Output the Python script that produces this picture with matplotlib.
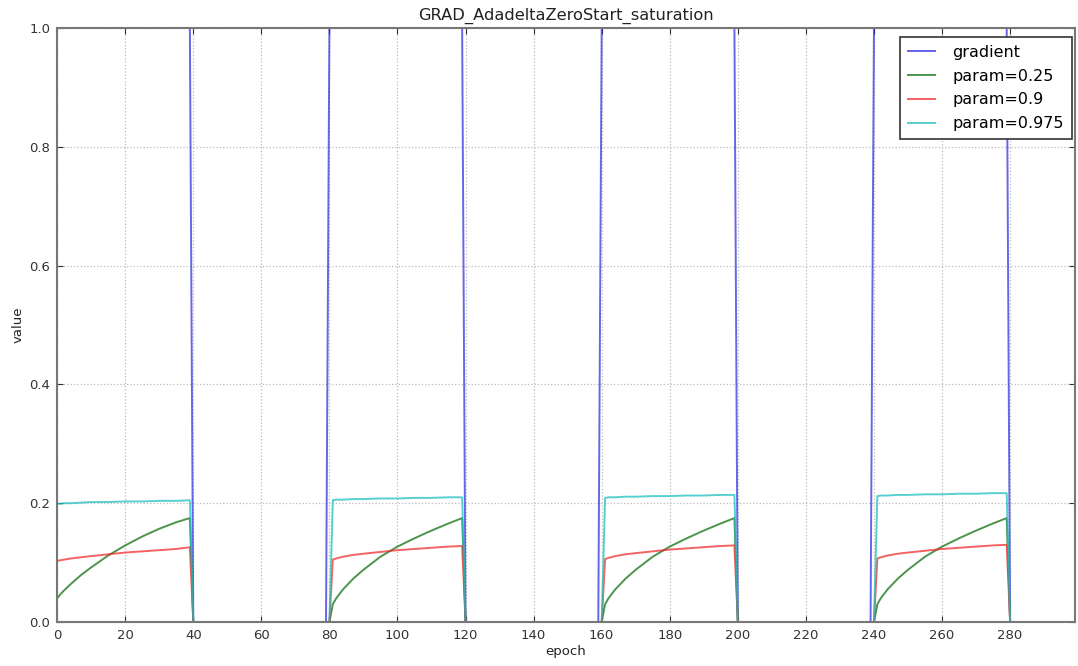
import matplotlib
matplotlib.use("Agg")
import matplotlib.pyplot as plt

# sampled epochs (x values)
epochs = [0, 1, 2, 4, 7, 10, 15, 20, 25, 30, 35, 39, 40, 79,
          80, 81, 82, 84, 87, 90, 95, 100, 105, 110, 115, 119, 120, 159,
          160, 161, 162, 164, 167, 170, 175, 180, 185, 190, 195, 199, 200, 239,
          240, 241, 242, 244, 247, 250, 255, 260, 265, 270, 275, 279, 280, 299]

gradient = [1, 1, 1, 1, 1, 1, 1, 1, 1, 1, 1, 1, 0, 0,
            1, 1, 1, 1, 1, 1, 1, 1, 1, 1, 1, 1, 0, 0,
            1, 1, 1, 1, 1, 1, 1, 1, 1, 1, 1, 1, 0, 0,
            1, 1, 1, 1, 1, 1, 1, 1, 1, 1, 1, 1, 0, 0]

param_025 = [0.040, 0.047, 0.053, 0.064, 0.079, 0.092, 0.112, 0.129, 0.144, 0.157, 0.168, 0.175, 0.0, 0.0,
             0.0, 0.030, 0.040, 0.055, 0.073, 0.088, 0.110, 0.127, 0.141, 0.154, 0.166, 0.175, 0.0, 0.0,
             0.0, 0.030, 0.040, 0.055, 0.073, 0.088, 0.110, 0.127, 0.141, 0.154, 0.166, 0.175, 0.0, 0.0,
             0.0, 0.030, 0.040, 0.055, 0.073, 0.088, 0.110, 0.127, 0.141, 0.154, 0.166, 0.175, 0.0, 0.0]

param_09 = [0.103, 0.104, 0.105, 0.107, 0.109, 0.111, 0.114, 0.117, 0.119, 0.121, 0.123, 0.126, 0.0, 0.0,
            0.0, 0.105, 0.107, 0.110, 0.113, 0.115, 0.118, 0.121, 0.123, 0.125, 0.127, 0.128, 0.0, 0.0,
            0.0, 0.106, 0.108, 0.111, 0.114, 0.116, 0.119, 0.122, 0.124, 0.126, 0.128, 0.129, 0.0, 0.0,
            0.0, 0.107, 0.109, 0.112, 0.115, 0.117, 0.120, 0.123, 0.125, 0.127, 0.129, 0.130, 0.0, 0.0]

param_0975 = [0.199, 0.199, 0.200, 0.200, 0.201, 0.202, 0.202, 0.203, 0.203, 0.204, 0.204, 0.205, 0.0, 0.0,
              0.0, 0.205, 0.206, 0.206, 0.207, 0.207, 0.208, 0.208, 0.209, 0.209, 0.210, 0.210, 0.0, 0.0,
              0.0, 0.209, 0.210, 0.210, 0.211, 0.211, 0.212, 0.212, 0.213, 0.213, 0.214, 0.214, 0.0, 0.0,
              0.0, 0.212, 0.213, 0.213, 0.214, 0.214, 0.215, 0.215, 0.216, 0.216, 0.217, 0.217, 0.0, 0.0]

xticks = [0, 20, 40, 60, 80, 100, 120, 140, 160, 180, 200, 220, 240, 260, 280]
yticks = [0.0, 0.2, 0.4, 0.6, 0.8, 1.0]

plt.rcParams['font.family'] = ['DejaVu Sans']
fig = plt.figure(figsize=(10.78, 6.66), dpi=100)
ax = fig.add_axes([0.053, 0.066, 0.944, 0.892])

ax.plot(epochs, gradient, color='#2525e0', alpha=0.7, lw=1.4, label='gradient')
ax.plot(epochs, param_025, color='#1f7a1f', alpha=0.8, lw=1.4, label='param=0.25')
ax.plot(epochs, param_09, color='#f02020', alpha=0.7, lw=1.4, label='param=0.9')
ax.plot(epochs, param_0975, color='#20c0c0', alpha=0.75, lw=1.4, label='param=0.975')

ax.set_xlim(0, 299)
ax.set_ylim(0, 1.0)
ax.set_xticks(xticks)
ax.set_yticks(yticks)
ax.set_yticklabels(['0.0', '0.2', '0.4', '0.6', '0.8', '1.0'])
ax.tick_params(direction='in', top=True, right=True, labelsize=9.5, colors='#333333',
               length=4, pad=5)
ax.grid(True, linestyle=':', color='#bbbbbb', lw=0.9)
for s in ax.spines.values():
    s.set_color('#777777')
    s.set_linewidth(1.5)

ax.set_title('GRAD_AdadeltaZeroStart_saturation', fontsize=11.7, color='#222222', pad=6)
ax.set_xlabel('epoch', fontsize=9.5, color='#222222', labelpad=2)
ax.set_ylabel('value', fontsize=9.5, color='#222222', labelpad=3)

leg = ax.legend(loc='upper right', bbox_to_anchor=(0.997, 0.985), borderaxespad=0,
                fontsize=11.5, fancybox=False, framealpha=1,
                edgecolor='#333333', handlelength=1.7, handletextpad=1.1,
                labelspacing=0.55, borderpad=0.5)
leg.get_frame().set_linewidth(1.2)

fig.savefig('out.png', dpi=100)
